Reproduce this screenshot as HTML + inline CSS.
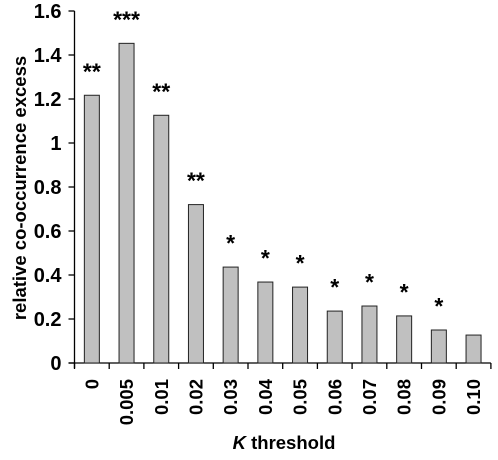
<!DOCTYPE html>
<html><head><meta charset="utf-8"><style>
body{margin:0;background:#fff}
svg{display:block;font-family:"Liberation Sans",Arial,sans-serif;font-weight:bold}
</style></head><body>
<svg id="chart" width="498" height="460">
<text transform="translate(26,188) rotate(-90)" text-anchor="middle" font-size="18.5">relative co-occurrence excess</text>
<text x="284" y="449" text-anchor="middle" font-size="18.5"><tspan font-style="italic">K</tspan> threshold</text>
<g id="axes"></g><g id="bars"></g>
</svg>
<script>
const categories=["0","0.005","0.01","0.02","0.03","0.04","0.05","0.06","0.07","0.08","0.09","0.10"];
const values=[1.217,1.453,1.126,0.72,0.436,0.368,0.345,0.236,0.259,0.214,0.15,0.127];
const stars=["**","***","**","**","*","*","*","*","*","*","*",""];
const yTicks=[0,0.2,0.4,0.6,0.8,1,1.2,1.4,1.6];
const yTickLabels=["0","0.2","0.4","0.6","0.8","1","1.2","1.4","1.6"];
const NS="http://www.w3.org/2000/svg";
const x0=74.5,cw=34.7,y0=363,ppu=220;
const y=v=>y0-v*ppu;
const xc=i=>x0+cw*(i+0.5);
const axes=document.getElementById('axes'),bars=document.getElementById('bars');
function mk(t,a,p){const e=document.createElementNS(NS,t);for(const k in a)e.setAttribute(k,a[k]);p.appendChild(e);return e;}
let l=mk('line',{x1:x0,y1:y(1.6),x2:x0,y2:y0+5,stroke:'#000','stroke-width':1.3},axes);


l=mk('line',{x1:x0-6,y1:y0,x2:x0+cw*12,y2:y0,stroke:'#000','stroke-width':1.3},axes);


yTicks.forEach((v,i)=>{
 const t=mk('line',{x1:x0-6,y1:y(v),x2:x0,y2:y(v),stroke:'#000','stroke-width':1.3},axes);
 
 
 const tx=mk('text',{x:x0-13,y:y(v)+7,'text-anchor':'end','font-size':20},axes);
 tx.textContent=yTickLabels[i];
 
 
});
for(let i=0;i<=12;i++){
 const t=mk('line',{x1:x0+cw*i,y1:y0,x2:x0+cw*i,y2:y0+6,stroke:'#000','stroke-width':1.3},axes);
 
 
}
categories.forEach((c,i)=>{
 const r=mk('rect',{x:xc(i)-7.5,y:y(values[i]),width:15,height:values[i]*ppu,fill:'#c0c0c0',stroke:'#222','stroke-width':1},bars);
 
 
 const s=mk('text',{x:xc(i),y:y(values[i])-16,'text-anchor':'middle','font-size':23},bars);
 s.textContent=stars[i];
 
 
 const tl=mk('text',{transform:`translate(${xc(i)+6.5},379) rotate(-90)`,'text-anchor':'end','font-size':18.5},axes);
 tl.textContent=c;
 
 
});
</script>
</body></html>
